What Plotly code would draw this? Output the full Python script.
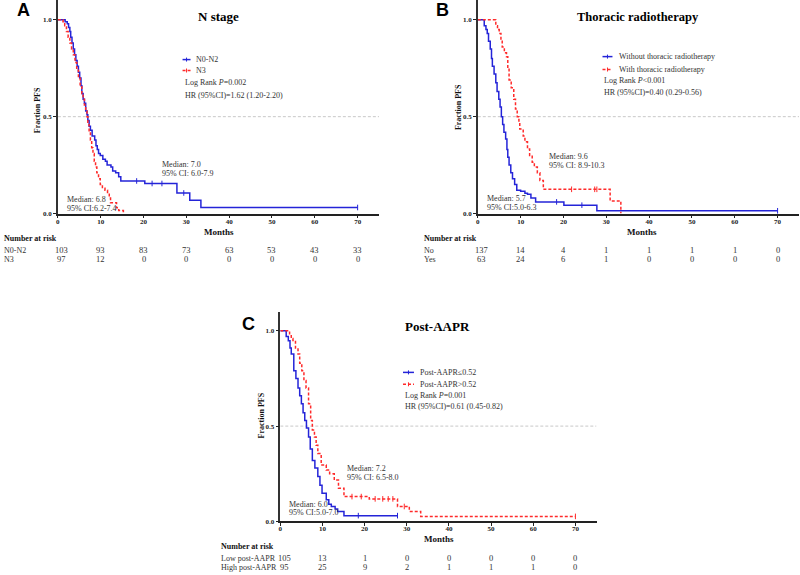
import plotly.graph_objects as go

# ---------------- data ----------------
month_ticks = [0, 10, 20, 30, 40, 50, 60, 70]
frac_ticks = [0.0, 0.5, 1.0]
frac_tick_text = ["0.0", "0.5", "1.0"]

# Panel A: N stage
a_n02_t = [0, 1.7, 2.2, 2.5, 2.8, 3.0, 3.3, 3.6, 3.9, 4.2, 4.5, 4.8, 5.1, 5.4, 5.6, 5.9, 6.2, 6.5, 6.8,
           7.0, 7.3, 7.6, 8.0, 8.6, 8.9, 9.2, 9.5, 9.9, 10.5, 11.1, 11.5, 12.4, 12.8, 13.5, 14.2, 14.7,
           20.3, 27.8, 30.8, 33.4, 70]
a_n02_s = [1.0, 0.99, 0.98, 0.96, 0.94, 0.91, 0.88, 0.85, 0.82, 0.79, 0.76, 0.73, 0.70, 0.66, 0.62, 0.59,
           0.57, 0.53, 0.51, 0.48, 0.45, 0.43, 0.40, 0.38, 0.35, 0.33, 0.31, 0.30, 0.28, 0.27, 0.25, 0.24,
           0.22, 0.21, 0.19, 0.168, 0.155, 0.106, 0.068, 0.031, 0.031]
a_n02_cens = [18.4, 22.0, 24.3, 29.4, 70]
a_n3_t = [0, 1.2, 1.6, 2.0, 2.4, 2.8, 3.2, 3.6, 4.0, 4.4, 4.8, 5.2, 5.6, 5.9, 6.2, 6.5, 6.8, 7.0, 7.3,
          7.6, 7.9, 8.2, 8.5, 8.8, 9.1, 9.5, 9.9, 10.4, 11.0, 11.6, 12.0, 12.3, 13.7, 14.2, 15.3]
a_n3_s = [1.0, 0.99, 0.97, 0.94, 0.91, 0.88, 0.85, 0.82, 0.78, 0.74, 0.70, 0.66, 0.62, 0.59, 0.56, 0.53,
          0.50, 0.46, 0.42, 0.38, 0.34, 0.31, 0.27, 0.24, 0.21, 0.18, 0.15, 0.13, 0.12, 0.10, 0.08, 0.056,
          0.03, 0.015, 0.0]
a_n3_cens = []

# Panel B: Thoracic radiotherapy
b_no_t = [0, 1.5, 1.9, 2.2, 2.5, 2.9, 3.2, 3.4, 3.8, 4.2, 4.5, 4.9, 5.2, 5.5, 5.8, 6.1, 6.5, 6.8, 7.0,
          7.3, 7.7, 8.1, 8.6, 9.1, 10.0, 11.0, 11.6, 12.4, 13.5, 20.1, 27.8, 70]
b_no_s = [1.0, 0.97, 0.95, 0.93, 0.89, 0.85, 0.80, 0.76, 0.72, 0.675, 0.63, 0.59, 0.55, 0.50, 0.46, 0.42,
          0.385, 0.33, 0.29, 0.25, 0.21, 0.18, 0.15, 0.12, 0.115, 0.105, 0.10, 0.08, 0.06, 0.043, 0.014,
          0.014]
b_no_cens = [18.4, 24.3, 70]
b_yes_t = [0, 4.2, 4.6, 5.0, 5.4, 5.7, 6.2, 6.7, 7.0, 7.3, 7.8, 8.4, 8.8, 9.2, 9.6, 9.8, 10.6, 11.0,
           11.6, 12.1, 12.7, 13.2, 13.9, 14.5, 15.3, 30.9, 33.4]
b_yes_s = [1.0, 0.97, 0.95, 0.93, 0.89, 0.86, 0.83, 0.81, 0.75, 0.69, 0.65, 0.59, 0.54, 0.50, 0.47,
           0.436, 0.40, 0.37, 0.333, 0.30, 0.265, 0.24, 0.21, 0.17, 0.125, 0.065, 0.0]
b_yes_cens = [21.9, 27.3, 27.8]

# Panel C: Post-AAPR
c_low_t = [0, 1.4, 1.9, 2.3, 2.6, 3.2, 3.7, 4.2, 4.6, 5.0, 5.4, 5.8, 6.2, 6.7, 7.1, 7.6, 8.2, 8.9, 9.4,
           9.9, 10.9, 11.5, 12.1, 13.0, 13.6, 15.1, 27.8]
c_low_s = [1.0, 0.97, 0.948, 0.91, 0.878, 0.79, 0.75, 0.70, 0.66, 0.617, 0.57, 0.53, 0.49, 0.443, 0.38,
           0.32, 0.28, 0.235, 0.19, 0.148, 0.113, 0.09, 0.078, 0.065, 0.052, 0.03, 0.03]
c_low_cens = [18.5, 27.8]
c_high_t = [0, 2.2, 2.6, 3.0, 3.6, 4.2, 4.6, 5.1, 5.6, 6.1, 6.7, 7.2, 7.6, 8.1, 8.5, 8.9, 9.7, 10.9,
            11.7, 12.8, 13.8, 15.1, 21.1, 27.8, 30.6, 33.3, 70]
c_high_s = [1.0, 0.98, 0.96, 0.95, 0.91, 0.878, 0.83, 0.79, 0.74, 0.70, 0.617, 0.53, 0.48, 0.443, 0.40,
            0.356, 0.296, 0.27, 0.25, 0.217, 0.174, 0.13, 0.118, 0.078, 0.052, 0.026, 0.026]
c_high_cens = [17.0, 19.2, 22.5, 24.3, 25.6, 26.7, 29.4, 70]

# number-at-risk tables
a_risk_n02 = [103, 93, 83, 73, 63, 53, 43, 33]
a_risk_n3 = [97, 12, 0, 0, 0, 0, 0, 0]
b_risk_no = [137, 14, 4, 1, 1, 1, 1, 0]
b_risk_yes = [63, 24, 6, 1, 0, 0, 0, 0]
c_risk_low = [105, 13, 1, 0, 0, 0, 0, 0]
c_risk_high = [95, 25, 9, 2, 1, 1, 1, 0]

# ---------------- styling ----------------
W, H = 800, 575
BLUE = "#2424d8"
RED = "#ff2a2a"
SERIF = "Liberation Serif"
SANS = "Liberation Sans"
RED_DASH = "3px,2px"


def px(x):
    return x / W


def py(y):
    return 1 - y / H


def surv_at(ts, ss, t):
    val = ss[0]
    for ti, si in zip(ts, ss):
        if ti <= t:
            val = si
    return val


fig = go.Figure()


def add_curve(ts, ss, cens, color, dash, xa, ya):
    fig.add_trace(go.Scatter(x=ts, y=ss, mode="lines", line=dict(color=color, width=1.5, dash=dash, shape="hv"),
                             xaxis=xa, yaxis=ya, showlegend=False, hoverinfo="skip", cliponaxis=False))
    if cens:
        fig.add_trace(go.Scatter(x=cens, y=[surv_at(ts, ss, c) for c in cens], mode="markers",
                                 marker=dict(symbol="line-ns", size=4, line=dict(color=color, width=1)),
                                 xaxis=xa, yaxis=ya, showlegend=False, hoverinfo="skip", cliponaxis=False))


add_curve(a_n02_t, a_n02_s, a_n02_cens, BLUE, "solid", "x", "y")
add_curve(a_n3_t, a_n3_s, a_n3_cens, RED, RED_DASH, "x", "y")
add_curve(b_no_t, b_no_s, b_no_cens, BLUE, "solid", "x2", "y2")
add_curve(b_yes_t, b_yes_s, b_yes_cens, RED, RED_DASH, "x2", "y2")
add_curve(c_low_t, c_low_s, c_low_cens, BLUE, "solid", "x3", "y3")
add_curve(c_high_t, c_high_s, c_high_cens, RED, RED_DASH, "x3", "y3")

tickfont = dict(family=SERIF, size=7, color="#222", weight="bold")


def xax(domain, anchor):
    return dict(domain=domain, anchor=anchor, range=[0, 75], tickvals=month_ticks, showgrid=False,
                zeroline=False, showline=True, linecolor="#222", linewidth=1.5, ticks="outside",
                ticklen=3, tickwidth=1, tickcolor="#222", tickfont=tickfont, ticklabelstandoff=-3)


def yax(domain, anchor):
    return dict(domain=domain, anchor=anchor, range=[0, 1.1], tickvals=frac_ticks, ticktext=frac_tick_text,
                showgrid=False, zeroline=False, showline=True, linecolor="#333", linewidth=1.5,
                ticks="outside", ticklen=3, tickwidth=1, tickcolor="#222", tickfont=tickfont)


ya_dom = [py(215), py(0.5)]
yc_dom = [py(525), py(314)]
fig.update_layout(
    width=W, height=H, margin=dict(l=0, r=0, t=0, b=0),
    paper_bgcolor="white", plot_bgcolor="white", showlegend=False,
    xaxis=xax([px(56), px(378)], "y"), yaxis=yax(ya_dom, "x"),
    xaxis2=xax([px(477), px(799)], "y2"), yaxis2=yax(ya_dom, "x2"),
    xaxis3=xax([px(279), px(596)], "y3"), yaxis3=yax(yc_dom, "x3"),
)

shapes = []
for xr, yr in [("x", "y"), ("x2", "y2"), ("x3", "y3")]:
    shapes.append(dict(type="line", xref=xr, yref=yr, x0=0, x1=75, y0=0.5, y1=0.5,
                       line=dict(color="#c8c8c8", width=1, dash="3px,2px"), layer="below"))

annotations = []


def txt(x, y, text, size=8, anchor="left", bold=False, family=SERIF, angle=0, color="#333"):
    font = dict(family=family, size=size, color=color)
    if bold:
        font["weight"] = "bold"
    annotations.append(dict(x=px(x), y=py(y), xref="paper", yref="paper", text=text, showarrow=False,
                            xanchor=anchor, yanchor="middle", font=font, textangle=angle))


def legend(x0, x1, xt, y1, y2, y3, y4, lab1, lab2, lr, hr):
    shapes.append(dict(type="line", xref="paper", yref="paper", x0=px(x0), x1=px(x1), y0=py(y1), y1=py(y1),
                       line=dict(color=BLUE, width=1.5)))
    shapes.append(dict(type="line", xref="paper", yref="paper", x0=px(x0), x1=px(x1), y0=py(y2), y1=py(y2),
                       line=dict(color=RED, width=1.5, dash=RED_DASH)))
    xm = (x0 + x1) / 2
    shapes.append(dict(type="line", xref="paper", yref="paper", x0=px(xm), x1=px(xm), y0=py(y1 - 2),
                       y1=py(y1 + 2), line=dict(color=BLUE, width=1)))
    shapes.append(dict(type="line", xref="paper", yref="paper", x0=px(xm), x1=px(xm), y0=py(y2 - 2),
                       y1=py(y2 + 2), line=dict(color=RED, width=1)))
    txt(xt, y1, lab1)
    txt(xt, y2, lab2)
    txt(x0, y3, lr)
    txt(x0, y4, hr)


def risk_table(xref, lx, ty, y1, y2, lab1, lab2, r1, r2):
    txt(lx, ty, "Number at risk", bold=True, color="#111")
    txt(lx, y1, lab1, size=8)
    txt(lx, y2, lab2, size=8)
    for i, (t, n1, n2) in enumerate(zip(month_ticks, r1, r2)):
        for n, yy in [(n1, y1), (n2, y2)]:
            annotations.append(dict(x=t, y=py(yy), xref=xref, yref="paper", text=str(n), showarrow=False,
                                    xanchor="center", yanchor="middle", xshift=4 if i == 0 else 0,
                                    font=dict(family=SERIF, size=8.5, color="#333")))


# Panel A
txt(22, 10, "A", size=18, anchor="center", bold=True, family=SANS, color="black")
txt(217, 17, "N stage", size=13, anchor="center", bold=True, color="black")
legend(181, 189, 192, 60, 71, 83, 96, "N0-N2", "N3", "Log Rank <i>P</i>=0.002", "HR (95%CI)=1.62 (1.20-2.20)")
txt(158, 166, "Median: 7.0")
txt(158, 174.5, "95% CI: 6.0-7.9")
txt(63, 201, "Median: 6.8")
txt(63, 209.5, "95% CI:6.2-7.4")
txt(35, 111, "Fraction PFS", size=8, anchor="center", bold=True, angle=-90, color="#111")
txt(218, 234, "Months", size=9, anchor="center", bold=True, color="#111")
risk_table("x", 0, 240, 252, 261, "N0-N2", "N3", a_risk_n02, a_risk_n3)

# Panel B
txt(442, 10, "B", size=18, anchor="center", bold=True, family=SANS, color="black")
txt(638, 17, "Thoracic radiotherapy", size=12.5, anchor="center", bold=True, color="black")
legend(602, 612, 617, 57, 70, 81, 93, "Without thoracic radiotherapy", "With thoracic radiotherapy",
       "Log Rank <i>P</i>&lt;0.001", "HR (95%CI)=0.40 (0.29-0.56)")
txt(546, 158, "Median: 9.6")
txt(546, 166.5, "95% CI: 8.9-10.3")
txt(484, 200, "Median: 5.7")
txt(484, 208.5, "95% CI:5.0-6.3")
txt(457, 108, "Fraction PFS", size=8, anchor="center", bold=True, angle=-90, color="#111")
txt(642, 234, "Months", size=9, anchor="center", bold=True, color="#111")
risk_table("x2", 421, 240, 252, 261, "No", "Yes", b_risk_no, b_risk_yes)

# Panel C
txt(247, 326, "C", size=18, anchor="center", bold=True, family=SANS, color="black")
txt(437, 329, "Post-AAPR", size=13, anchor="center", bold=True, color="black")
legend(402, 413, 417, 375, 387, 398, 409, "Post-AAPR≤0.52", "Post-AAPR&gt;0.52",
       "Log Rank <i>P</i>=0.001", "HR (95%CI)=0.61 (0.45-0.82)")
txt(344, 472, "Median: 7.2")
txt(344, 480.5, "95% CI: 6.5-8.0")
txt(286, 508, "Median: 6.0")
txt(286, 516.5, "95% CI:5.0-7.0")
txt(260, 418, "Fraction PFS", size=8, anchor="center", bold=True, angle=-90, color="#111")
txt(438, 543, "Months", size=9, anchor="center", bold=True, color="#111")
risk_table("x3", 218, 550, 562, 571, "Low post-AAPR", "High post-AAPR", c_risk_low, c_risk_high)

fig.update_layout(shapes=shapes, annotations=annotations)
fig.write_html("out.html", config={"displayModeBar": False},
               post_script="document.body.style.margin='0px';document.body.style.padding='0px';")
